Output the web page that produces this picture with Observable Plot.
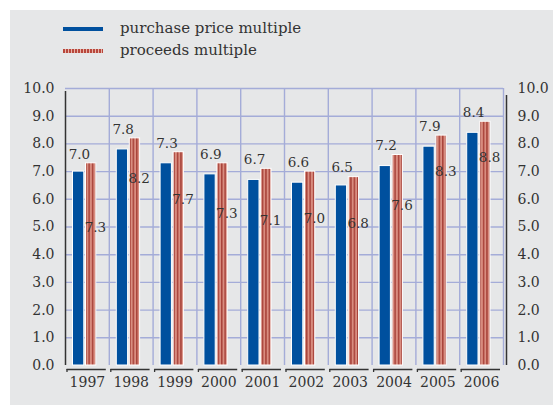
<!DOCTYPE html>
<html>
<head>
<meta charset="utf-8">
<script src="https://cdn.jsdelivr.net/npm/d3@7"></script>
<script src="https://cdn.jsdelivr.net/npm/@observablehq/plot@0.6"></script>
<style>
  html, body { margin: 0; padding: 0; background: #ffffff; }
  body { width: 553px; height: 405px; position: relative; overflow: hidden; font-family: "DejaVu Serif", serif; }
  #bg { position: absolute; left: 10px; top: 10px; width: 543px; height: 395px; background: #e6e7e8; }
  #chart { position: absolute; left: 0; top: 70px; }
  .leg { position: absolute; left: 63px; width: 40px; height: 4px; }
  .legtext { position: absolute; left: 120px; font-size: 15px; color: #333; line-height: 18px; }
</style>
</head>
<body>
<div id="bg"></div>
<div class="leg" style="top:27px;background:#00509e;"></div>
<div class="legtext" style="top:19px;">purchase price multiple</div>
<div class="leg" style="top:49px;background:repeating-linear-gradient(90deg,#b8473c 0 2px,#e7b3a8 2px 3px);"></div>
<div class="legtext" style="top:41px;">proceeds multiple</div>
<div id="chart"></div>
<script>
const years = [1997, 1998, 1999, 2000, 2001, 2002, 2003, 2004, 2005, 2006];
const purchase = [7.0, 7.8, 7.3, 6.9, 6.7, 6.6, 6.5, 7.2, 7.9, 8.4];
const proceeds = [7.3, 8.2, 7.7, 7.3, 7.1, 7.0, 6.8, 7.6, 8.3, 8.8];
// where the proceeds labels sit in the original (value units)
const proceedsLabelAt = [4.98, 6.75, 5.99, 5.49, 5.23, 5.31, 5.13, 5.78, 7.0, 7.51];
const yTicks = [0, 1, 2, 3, 4, 5, 6, 7, 8, 9, 10];

const rows = years.map((y, i) => ({year: y, purchase: purchase[i], proceeds: proceeds[i], labelAt: proceedsLabelAt[i]}));

const grid = "#a4acd8";
const ink = "#333333";
const font = "DejaVu Serif, serif";

const svg = Plot.plot({
  width: 553,
  height: 335,
  marginLeft: 65,
  marginRight: 50,
  marginTop: 18,
  marginBottom: 40,
  style: {background: "transparent", fontFamily: font, fontSize: "14px", color: ink},
  x: {domain: [1996.5, 2006.5], axis: null, label: null},
  y: {domain: [0, 10], axis: null, label: null},
  marks: [
    Plot.ruleY(yTicks.filter(d => d > 0), {stroke: grid, strokeWidth: 1.4}),
    Plot.ruleX(d3.range(1997.5, 2007, 1), {y1: 0, y2: 10, stroke: grid, strokeWidth: 1.4}),
    Plot.rectY(rows, {x1: d => d.year - 0.5, x2: d => d.year + 0.5, y: "purchase", insetLeft: 7.5, insetRight: 25, fill: "#00509e", stroke: "#ffffff", strokeWidth: 1}),
    Plot.rectY(rows, {x1: d => d.year - 0.5, x2: d => d.year + 0.5, y: "proceeds", insetLeft: 20.5, insetRight: 13, fill: "url(#stripes)", stroke: "#ffffff", strokeWidth: 1}),
    Plot.text(rows, {x: "year", y: "proceeds", text: d => d.purchase.toFixed(1), dx: -8, dy: -9, fill: ink, fontSize: 13.5}),
    Plot.text(rows, {x: "year", y: "labelAt", text: d => d.proceeds.toFixed(1), dx: 8, fill: ink, fontSize: 13.5}),
    // left axis line
    Plot.ruleX([1996.5], {y1: 0, y2: 10, stroke: ink, strokeWidth: 1.5, insetBottom: -3}),
    // right axis line
    Plot.ruleX([2006.5], {y1: 0, y2: 10, dx: 3, stroke: ink, strokeWidth: 1.5, insetBottom: -7}),
    // bottom brackets
    Plot.ruleY(years, {y: 0, x1: d => d - 0.5, x2: d => d + 0.5, dy: 4, insetLeft: 1.5, insetRight: 3, stroke: ink, strokeWidth: 1.3}),
    Plot.ruleX(years, {x: d => d - 0.5, y1: 0, y2: 0, dx: 1.5, dy: 4, insetBottom: -3, stroke: ink, strokeWidth: 1.3}),
    Plot.axisY(yTicks, {anchor: "left", tickSize: 0, tickPadding: 11, tickFormat: d => d.toFixed(1), fontSize: 14, fill: ink, label: null}),
    Plot.axisY(yTicks, {anchor: "right", tickSize: 0, tickPadding: 14, tickFormat: d => d.toFixed(1), fontSize: 14, fill: ink, label: null}),
    Plot.axisX(years, {anchor: "bottom", tickSize: 0, tickPadding: 12, tickFormat: d => String(d), fontSize: 14, fill: ink, label: null})
  ]
});

const defs = d3.select(svg).insert("defs", ":first-child");
const pat = defs.append("pattern").attr("id", "stripes").attr("patternUnits", "userSpaceOnUse").attr("width", 3.4).attr("height", 10);
pat.append("rect").attr("width", 3.4).attr("height", 10).attr("fill", "#d98d80");
pat.append("rect").attr("width", 1.5).attr("height", 10).attr("fill", "#a8433a");

document.getElementById("chart").appendChild(svg);
</script>
</body>
</html>
